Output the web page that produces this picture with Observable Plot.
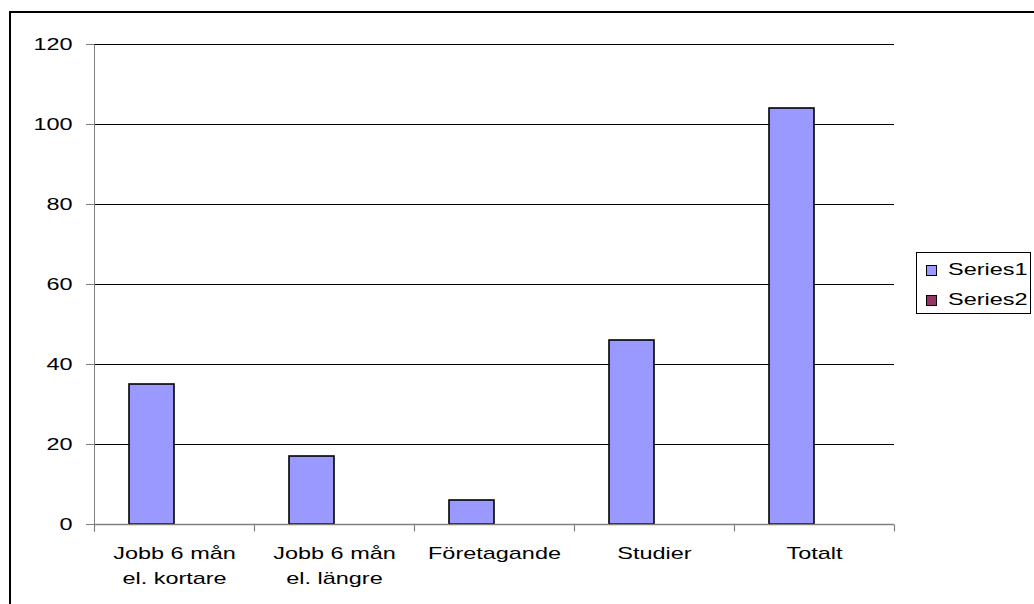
<!DOCTYPE html>
<html>
<head>
<meta charset="utf-8">
<script src="https://cdn.jsdelivr.net/npm/d3@7"></script>
<script src="https://cdn.jsdelivr.net/npm/@observablehq/plot@0.6"></script>
<style>
  html, body { margin: 0; padding: 0; background: #fff; }
  #wrap { position: relative; width: 1034px; height: 604px; overflow: hidden; font-family: 'Liberation Sans', Arial, sans-serif; }
  #frame { position: absolute; left: 9px; top: 11px; width: 1100px; height: 700px; border-left: 2px solid #000; border-top: 2px solid #000; }
  #chart { position: absolute; left: 0; top: 0; }
  #legend { position: absolute; left: 916px; top: 252px; width: 113px; height: 60px; border: 1px solid #000; background: #fff; }
  .sw { position: absolute; left: 9px; width: 9px; height: 9px; border: 1px solid #000; }
  .lab { position: absolute; left: 31px; font-size: 17px; line-height: 1.149; white-space: nowrap; transform: scaleX(1.38); transform-origin: left center; color: #000; }
</style>
</head>
<body>
<div id="wrap">
  <div id="frame"></div>
  <div id="chart"></div>
  <div id="legend"></div>
</div>
<script>
// ---- data ----
const categories = ["Jobb 6 mån\nel. kortare", "Jobb 6 mån\nel. längre", "Företagande", "Studier", "Totalt"];
const seriesNames = ["Series1", "Series2"];
const series1 = [35, 17, 6, 46, 104];
const series2 = [0, 0, 0, 0, 0];
const yTicks = [0, 20, 40, 60, 80, 100, 120];
const seriesColors = ["#9999ff", "#993366"];

const rows = [];
categories.forEach((c, i) => {
  rows.push({category: c, series: seriesNames[0], value: series1[i]});
  rows.push({category: c, series: seriesNames[1], value: series2[i]});
});

const W = 1034, H = 604, mL = 92, mR = 138, mT = 44, mB = 80;
const innerH = H - mT - mB;
const vline = (y0, y1) => ({draw(ctx) { ctx.moveTo(0, y0); ctx.lineTo(0, y1); }});

const plot = Plot.plot({
  width: W, height: H,
  marginLeft: mL, marginRight: mR, marginTop: mT, marginBottom: mB,
  style: {fontFamily: "'Liberation Sans', Arial, sans-serif", fontSize: "17px", color: "#000", background: "transparent", overflow: "visible"},
  fx: {domain: categories, padding: 0},
  x: {domain: seriesNames, paddingInner: 0, paddingOuter: 0.75, axis: null},
  y: {domain: [0, 120]},
  color: {domain: seriesNames, range: seriesColors},
  marks: [
    Plot.gridY(yTicks.filter(d => d > 0), {stroke: "#000", strokeOpacity: 1, strokeWidth: 1}),
    Plot.axisY({ticks: yTicks, tickSize: 8, tickPadding: 14, stroke: "#808080", fill: "#000", fontSize: 17, label: null}),
    Plot.barY(rows.filter(d => d.value > 0), {fx: "category", x: "series", y: "value", fill: "series", stroke: "#000", strokeWidth: 1.6}),
    Plot.ruleY([0], {stroke: "#808080", strokeWidth: 1.5}),
    Plot.dot([0], {frameAnchor: "bottom-left", symbol: vline(0, 7), fill: "none", stroke: "#808080", strokeWidth: 1.2}),
    Plot.dot([categories[categories.length - 1]], {fx: d => d, frameAnchor: "bottom-right", symbol: vline(0, 7), fill: "none", stroke: "#808080", strokeWidth: 1.2}),
    Plot.dot([categories[0]], {fx: d => d, frameAnchor: "bottom-left", symbol: vline(-innerH, 7), fill: "none", stroke: "#808080", strokeWidth: 1}),
    Plot.axisFx({anchor: "bottom", tickSize: 0, tickPadding: 17, fontSize: 17, lineHeight: 1.47, label: null, fill: "#000"})
  ]
});

// widen glyphs horizontally to match the stretched original text
plot.querySelectorAll("text").forEach(t => {
  const x = +t.getAttribute("x") || 0;
  const tr = t.getAttribute("transform") || "";
  t.setAttribute("transform", `${tr} translate(${x},0) scale(1.38,1) translate(${-x},0)`);
});

document.getElementById("chart").appendChild(plot);

// legend
const legend = document.getElementById("legend");
const swTops = [12, 42];
const labTops = [7, 36.5];
seriesNames.forEach((s, i) => {
  const sw = document.createElement("div");
  sw.className = "sw";
  sw.style.top = swTops[i] + "px";
  sw.style.background = seriesColors[i];
  legend.appendChild(sw);
  const lab = document.createElement("div");
  lab.className = "lab";
  lab.style.top = labTops[i] + "px";
  lab.textContent = s;
  legend.appendChild(lab);
});
</script>
</body>
</html>
